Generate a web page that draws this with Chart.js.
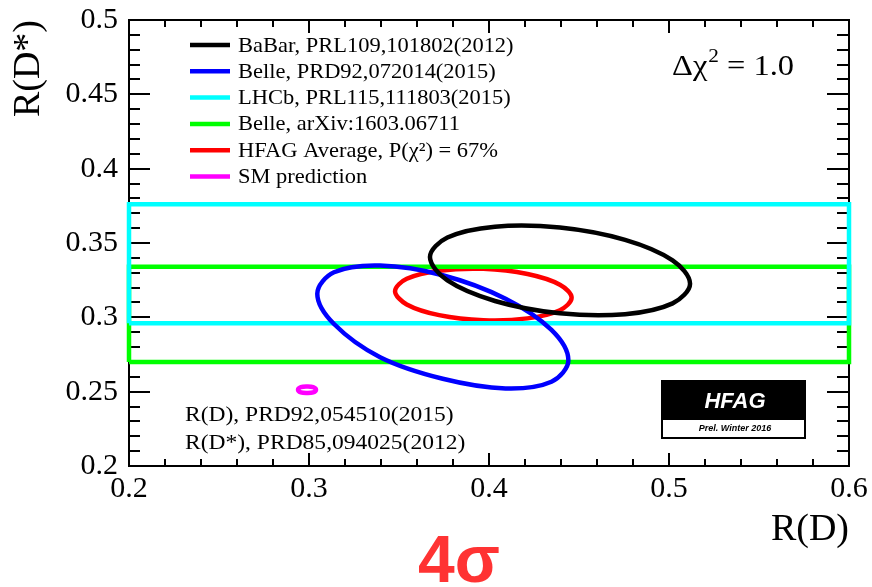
<!DOCTYPE html>
<html><head><meta charset="utf-8">
<script src="https://cdn.jsdelivr.net/npm/chart.js@4.4.1/dist/chart.umd.min.js"></script>
<style>html,body{margin:0;padding:0;background:#fff;}#wrap{width:872px;height:587px;}</style>
</head><body><div id="wrap"><canvas id="c" width="872" height="587"></canvas></div>
<script>
// ---- data ----
const seriesLabels = ['BaBar, PRL109,101802(2012)','Belle, PRD92,072014(2015)','LHCb, PRL115,111803(2015)','Belle, arXiv:1603.06711','HFAG Average, P(\u03c7\u00b2) = 67%','SM prediction'];
const seriesColors = ['#000000','#0000ff','#00ffff','#00ff00','#ff0000','#ff00ff'];

const babarX = [0.5117,0.5020,0.4756,0.4394,0.4033,0.3769,0.3672,0.3769,0.4033,0.4394,0.4756,0.5020];
const babarY = [0.3226,0.3094,0.3021,0.3027,0.3110,0.3248,0.3405,0.3537,0.3610,0.3604,0.3521,0.3383];

const belleX = [0.4441,0.4347,0.4092,0.3743,0.3395,0.3139,0.3046,0.3139,0.3395,0.3743,0.4092,0.4347];
const belleY = [0.2711,0.2567,0.2522,0.2587,0.2732,0.2955,0.3159,0.3303,0.3348,0.3283,0.3125,0.2915];

const lhcbX = [0.2,0.6,0.6,0.2,0.2];
const lhcbY = [0.296,0.296,0.376,0.376,0.296];

const belleArxivX = [0.2,0.6,0.6,0.2,0.2];
const belleArxivY = [0.270,0.270,0.334,0.334,0.270];

const hfagX = [0.4459,0.4394,0.4214,0.3969,0.3723,0.3543,0.3478,0.3543,0.3723,0.3969,0.4214,0.4394];
const hfagY = [0.3131,0.3048,0.2993,0.2981,0.3015,0.3087,0.3176,0.3259,0.3313,0.3326,0.3291,0.3219];

const smX = [0.2939,0.2955,0.2989,0.3023,0.3039,0.3023,0.2989,0.2955];
const smY = [0.2513,0.2531,0.2535,0.2531,0.2513,0.2495,0.2491,0.2495];

const xTickLabels = ['0.2','0.3','0.4','0.5','0.6'];
const yTickLabels = ['0.2','0.25','0.3','0.35','0.4','0.45','0.5'];
const xTitle = 'R(D)';
const yTitle = 'R(D*)';
const smNoteLines = ['R(D), PRD92,054510(2015)','R(D*), PRD85,094025(2012)'];
const chiText = ['\u0394\u03c7','2',' = 1.0'];
const logoTitle = 'HFAG';
const logoSub = 'Prel. Winter 2016';
const sigmaText = '4\u03c3';

// ---- build datasets ----
function pts(xs, ys) { return xs.map((x, i) => ({x: x, y: ys[i]})); }
const SERIF = '"Liberation Serif", "Times New Roman", serif';
Chart.defaults.font.family = SERIF;
function ds(i, data, closedCurve) {
  return { label: seriesLabels[i], data: data, borderColor: seriesColors[i], backgroundColor: seriesColors[i],
    showLine: true, fill: false, pointRadius: 0, pointHoverRadius: 0, borderWidth: 4.5,
    tension: closedCurve ? 0.35 : 0, clip: false, borderJoinStyle: 'miter', closedCurve: closedCurve };
}
const datasets = [
  ds(0, pts(babarX, babarY), true),
  ds(1, pts(belleX, belleY), true),
  ds(2, pts(lhcbX, lhcbY), false),
  ds(3, pts(belleArxivX, belleArxivY), false),
  ds(4, pts(hfagX, hfagY), true),
  ds(5, pts(smX, smY), true)
];

function sText(ctx, t, x, y, sx, align) {
  ctx.save();
  ctx.translate(x, y);
  ctx.scale(sx, 1);
  ctx.textAlign = align || 'left';
  ctx.fillText(t, 0, 0);
  ctx.restore();
}

// close the contour lines as loops (smooth cyclic curves)
const loopPlugin = {
  id: 'loopContours',
  afterDatasetsUpdate(chart) {
    chart.data.datasets.forEach((d, i) => {
      if (!d.closedCurve) return;
      const line = chart.getDatasetMeta(i).dataset;
      if (!line) return;
      line._loop = true;
      line._fullLoop = true;
      delete line._segments;
      line._path = undefined;
      line._pointsUpdated = false;
      if (line.updateControlPoints) line.updateControlPoints(chart.chartArea, 'x');
    });
  }
};

const decor = {
  id: 'decor',
  beforeDatasetsDraw(chart) {
    const ctx = chart.ctx, xs = chart.scales.x, ys = chart.scales.y;
    const {left, right, top, bottom} = chart.chartArea;
    ctx.save();
    ctx.strokeStyle = '#000'; ctx.lineWidth = 2; ctx.lineCap = 'butt';
    ctx.beginPath();
    ctx.moveTo(left, top); ctx.lineTo(right, top); ctx.lineTo(right, bottom);
    ctx.lineTo(left, bottom); ctx.closePath();
    ctx.stroke();
    const nx = Math.round((xs.max - xs.min) / 0.02);
    for (let i = 0; i <= nx; i++) {
      const px = Math.round(xs.getPixelForValue(xs.min + i * 0.02));
      const len = i % 5 === 0 ? 13 : 7;
      ctx.beginPath();
      ctx.moveTo(px, bottom); ctx.lineTo(px, bottom - len);
      ctx.moveTo(px, top); ctx.lineTo(px, top + len);
      ctx.stroke();
    }
    const ny = Math.round((ys.max - ys.min) / 0.01);
    for (let i = 0; i <= ny; i++) {
      const py = Math.round(ys.getPixelForValue(ys.min + i * 0.01));
      const maj = i % 5 === 0;
      ctx.beginPath();
      ctx.moveTo(left, py); ctx.lineTo(left + (maj ? 21 : 11), py);
      ctx.moveTo(right, py); ctx.lineTo(right - (maj ? 22 : 12), py);
      ctx.stroke();
    }
    ctx.restore();
  },
  afterDraw(chart) {
    const ctx = chart.ctx;
    ctx.save();
    // legend
    ctx.textBaseline = 'middle';
    ctx.font = '21px ' + SERIF;
    chart.data.datasets.forEach((d, i) => {
      const y = 45 + i * 26.3;
      ctx.strokeStyle = d.borderColor; ctx.lineWidth = 4.5; ctx.lineCap = 'butt';
      ctx.beginPath(); ctx.moveTo(190, y); ctx.lineTo(230, y); ctx.stroke();
      ctx.fillStyle = '#000';
      sText(ctx, d.label, 238, y + 1, 1.07);
    });
    // chi2 note
    ctx.textBaseline = 'alphabetic';
    ctx.fillStyle = '#000';
    ctx.font = '29px ' + SERIF;
    let x = 672;
    const sx = 1.12;
    sText(ctx, chiText[0], x, 75, sx); x += ctx.measureText(chiText[0]).width * sx + 1;
    ctx.font = '19px ' + SERIF;
    sText(ctx, chiText[1], x, 62, sx); x += ctx.measureText(chiText[1]).width * sx;
    ctx.font = '29px ' + SERIF;
    sText(ctx, chiText[2], x, 75, sx);
    // SM note
    ctx.font = '21px ' + SERIF;
    ctx.textBaseline = 'middle';
    sText(ctx, smNoteLines[0], 185, 415, 1.12);
    sText(ctx, smNoteLines[1], 185, 443, 1.12);
    // HFAG logo
    ctx.fillStyle = '#000';
    ctx.fillRect(662, 381, 143, 39);
    ctx.fillStyle = '#fff';
    ctx.fillRect(663, 420, 141, 17);
    ctx.strokeStyle = '#000'; ctx.lineWidth = 2;
    ctx.strokeRect(662, 381, 143, 57);
    ctx.fillStyle = '#fff';
    ctx.font = 'italic bold 22px "Liberation Sans", Arial, sans-serif';
    ctx.textAlign = 'center';
    ctx.fillText(logoTitle, 735, 402);
    ctx.fillStyle = '#000';
    ctx.font = 'italic bold 9px "Liberation Sans", Arial, sans-serif';
    ctx.fillText(logoSub, 735, 429);
    // 4 sigma
    ctx.fillStyle = '#ff3333';
    ctx.font = 'bold 66px "Liberation Sans", Arial, sans-serif';
    ctx.textBaseline = 'alphabetic';
    ctx.textAlign = 'center';
    ctx.fillText(sigmaText, 459, 582);
    ctx.restore();
  }
};

function zeroPad(s) { s.paddingTop = 0; s.paddingBottom = 0; s.paddingLeft = 0; s.paddingRight = 0; }

new Chart(document.getElementById('c'), {
  type: 'scatter',
  data: { datasets: datasets },
  options: {
    responsive: false, animation: false, devicePixelRatio: 1,
    layout: { padding: { top: 20, right: 23, left: 0, bottom: 0 } },
    plugins: { legend: { display: false }, tooltip: { enabled: false } },
    scales: {
      x: {
        type: 'linear', min: 0.2, max: 0.6,
        afterFit: s => { s.height = 121; zeroPad(s); },
        grid: { display: false, drawTicks: false },
        border: { display: true, color: '#000', width: 2 },
        ticks: { stepSize: 0.1, padding: 5, maxRotation: 0, color: '#000',
          font: { family: SERIF, size: 30 },
          callback: (v, i) => xTickLabels[i] },
        title: { display: true, text: xTitle, align: 'end', color: '#000',
          font: { family: SERIF, size: 38 }, padding: { top: 0, bottom: 34 } }
      },
      y: {
        type: 'linear', min: 0.2, max: 0.5,
        afterFit: s => { s.width = 129; zeroPad(s); },
        grid: { display: false, drawTicks: false },
        border: { display: true, color: '#000', width: 2 },
        ticks: { stepSize: 0.05, padding: 11, color: '#000',
          font: { family: SERIF, size: 30 },
          callback: (v, i) => yTickLabels[i] },
        title: { display: true, text: yTitle, align: 'end', color: '#000',
          font: { family: SERIF, size: 38 }, padding: { top: 6, bottom: 0 } }
      }
    }
  },
  plugins: [loopPlugin, decor]
});
</script>
</body></html>
